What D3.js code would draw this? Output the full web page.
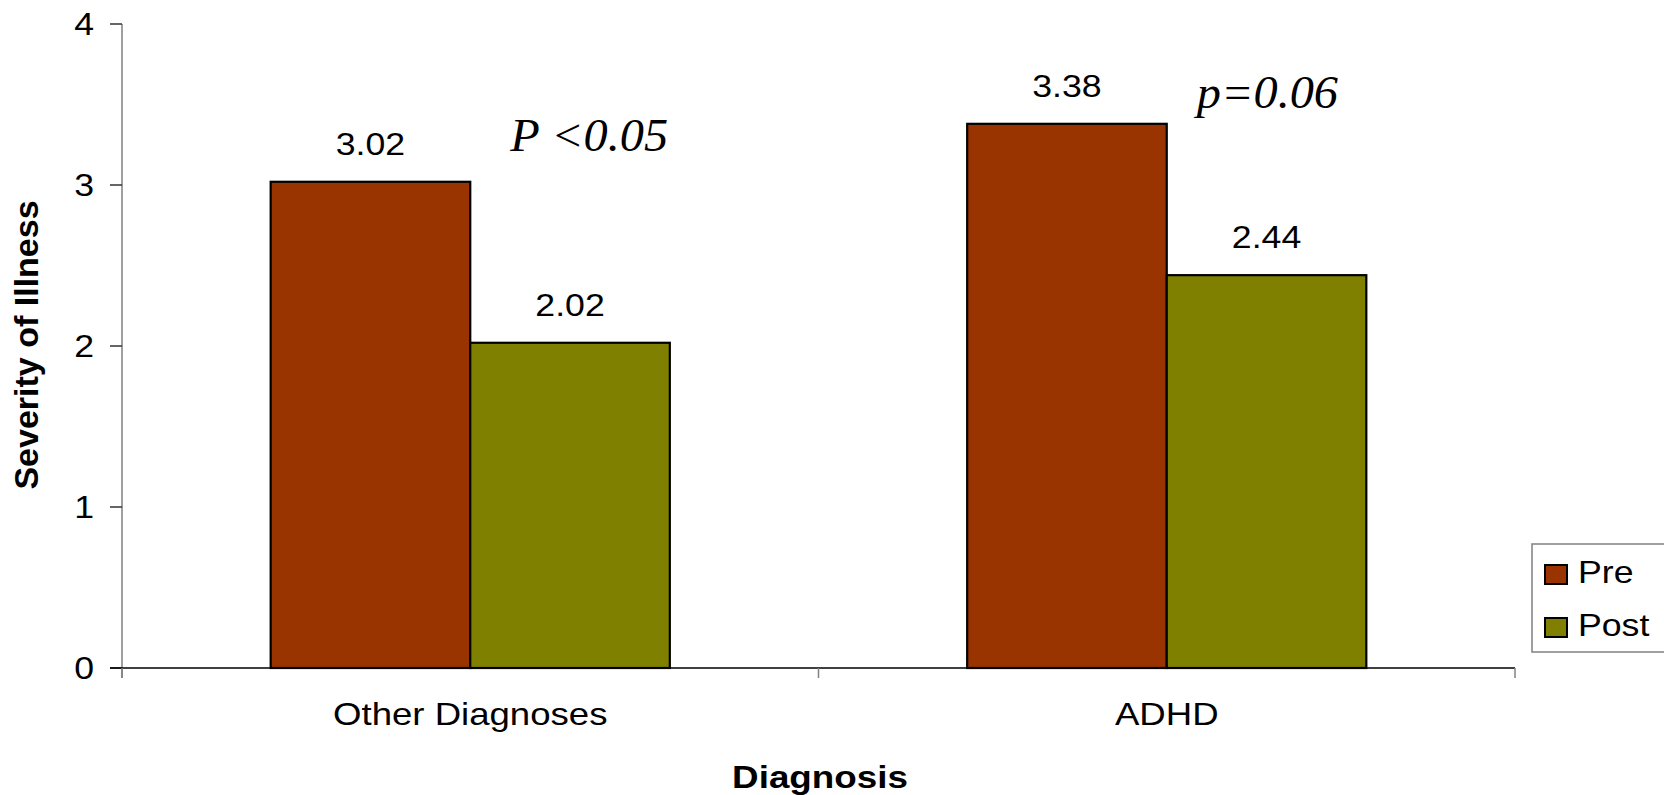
<!DOCTYPE html>
<html>
<head>
<meta charset="utf-8">
<script src="https://cdn.jsdelivr.net/npm/d3@7"></script>
<style>
  body { margin: 0; background: #fff; }
  text { font-family: "Liberation Sans", Arial, sans-serif; fill: #000; }
</style>
</head>
<body>
<svg id="chart"></svg>
<script>
const categories = ["Other Diagnoses", "ADHD"];
const seriesNames = ["Pre", "Post"];
const preValues = [3.02, 3.38];
const postValues = [2.02, 2.44];
const yTicks = [0, 1, 2, 3, 4];
const pLabels = ["P <0.05", "p=0.06"];

const width = 1664;
const height = 795;
const STRETCH = 1.15;   // the picture is a bit wide, text too
const colors = { Pre: "#993300", Post: "#808000" };

const svg = d3.select("#chart").attr("width", width).attr("height", height);

const x0 = d3.scaleBand().domain(categories).range([122, 1515]).padding(0);
const x1 = d3.scaleBand().domain(seriesNames).range([0, x0.bandwidth()]).paddingInner(0).paddingOuter(0.745);
const y = d3.scaleLinear().domain([0, 4]).range([668, 24]);

const rows = categories.map((c, i) => ({ cat: c, Pre: preValues[i], Post: postValues[i] }));

function wideText(sel, tx, ty, k) {
    return sel.attr("transform", `translate(${tx},${ty}) scale(${k || STRETCH},1)`);
}

// y axis
svg.append("line")
    .attr("x1", 122).attr("x2", 122)
    .attr("y1", y(4)).attr("y2", 678)
    .attr("stroke", "#808080").attr("stroke-width", 1.5);

svg.append("g").selectAll("line")
    .data(yTicks).enter().append("line")
    .attr("x1", 110).attr("x2", 122)
    .attr("y1", d => y(d)).attr("y2", d => y(d))
    .attr("stroke", "#333").attr("stroke-width", 1.5);

svg.append("g").selectAll("text")
    .data(yTicks).enter().append("text")
    .attr("text-anchor", "end")
    .attr("font-size", 31)
    .each(function (d) { wideText(d3.select(this), 94, y(d) + 11); })
    .text(d => d);

// bars
const group = svg.append("g").selectAll("g")
    .data(rows).enter().append("g")
    .attr("transform", d => `translate(${x0(d.cat)},0)`);

group.selectAll("rect")
    .data(d => seriesNames.map(s => ({ key: s, value: d[s] })))
    .enter().append("rect")
    .attr("x", d => x1(d.key))
    .attr("width", x1.bandwidth())
    .attr("y", d => y(d.value))
    .attr("height", d => y(0) - y(d.value))
    .attr("fill", d => colors[d.key])
    .attr("stroke", "#000").attr("stroke-width", 2.2);

group.selectAll("text.val")
    .data(d => seriesNames.map(s => ({ key: s, value: d[s] })))
    .enter().append("text")
    .attr("class", "val")
    .attr("text-anchor", "middle")
    .attr("font-size", 31)
    .each(function (d) { wideText(d3.select(this), x1(d.key) + x1.bandwidth() / 2, y(d.value) - 27); })
    .text(d => d.value.toFixed(2));

// p values, serif italic
group.append("text")
    .attr("text-anchor", "start")
    .attr("font-size", 46)
    .style("font-family", "'Liberation Serif', 'Times New Roman', serif")
    .style("font-style", "italic")
    .attr("transform", (d, i) => {
        const tx = x1("Post") + 40 - (i === 1 ? 10 : 0);
        const ty = y(d.Pre) - (i === 0 ? 31 : 16);
        return `translate(${tx},${ty}) scale(1.05,1)`;
    })
    .text((d, i) => pLabels[i]);

// x axis
svg.append("line")
    .attr("x1", 110).attr("x2", 1515)
    .attr("y1", y(0)).attr("y2", y(0))
    .attr("stroke", "#000").attr("stroke-width", 1.5);

const xTickPos = [x0.range()[0], x0.range()[0] + x0.step(), x0.range()[1]];
svg.append("g").selectAll("line")
    .data(xTickPos).enter().append("line")
    .attr("x1", d => d).attr("x2", d => d)
    .attr("y1", y(0)).attr("y2", y(0) + 10)
    .attr("stroke", "#808080").attr("stroke-width", 1.5);

svg.append("g").selectAll("text")
    .data(categories).enter().append("text")
    .attr("text-anchor", "middle")
    .attr("font-size", 31)
    .each(function (d) { wideText(d3.select(this), x0(d) + x0.bandwidth() / 2, 725, 1.18); })
    .text(d => d);

// axis titles
wideText(svg.append("text"), 820, 788)
    .attr("text-anchor", "middle")
    .attr("font-size", 32)
    .attr("font-weight", "bold")
    .text("Diagnosis");

svg.append("text")
    .attr("transform", "translate(38,345) rotate(-90)")
    .attr("text-anchor", "middle")
    .attr("font-size", 34)
    .attr("font-weight", "bold")
    .text("Severity of Illness");

// legend
const legend = svg.append("g").attr("transform", "translate(1532,544)");
legend.append("rect")
    .attr("width", 140).attr("height", 108)
    .attr("fill", "#fff")
    .attr("stroke", "#808080").attr("stroke-width", 1.5);

const item = legend.selectAll("g.item")
    .data(seriesNames).enter().append("g")
    .attr("class", "item")
    .attr("transform", (d, i) => `translate(13,${21 + i * 53})`);

item.append("rect")
    .attr("width", 22).attr("height", 19)
    .attr("fill", d => colors[d])
    .attr("stroke", "#000").attr("stroke-width", 2);

item.append("text")
    .attr("font-size", 31)
    .each(function () { wideText(d3.select(this), 33, 18); })
    .text(d => d);
</script>
</body>
</html>
